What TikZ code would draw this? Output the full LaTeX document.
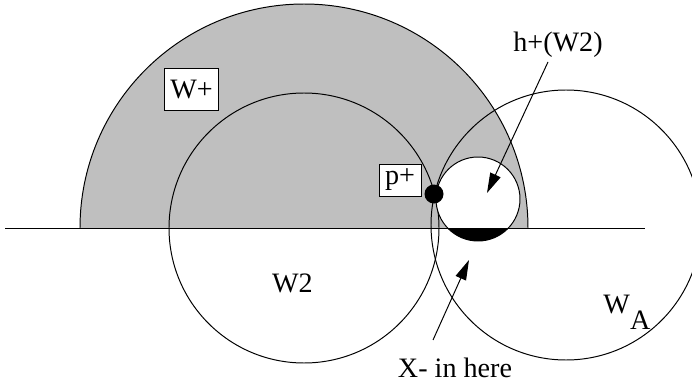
\documentclass[tikz,border=0pt]{standalone}
\usepackage{fontspec}
\setmainfont{Liberation Serif}
\usepackage{tikz}
\usetikzlibrary{arrows.meta}

\begin{document}
\begin{tikzpicture}[
    x=0.025cm, y=0.025cm, line width=0.7pt,
    font=\fontsize{20}{24}\selectfont,
    kotak/.style={draw, fill=white, inner sep=0pt, line width=0.6pt},
    panah/.style={-{Triangle[length=5mm, width=2.8mm]}}
  ]
    \path[use as bounding box, clip] (0,0) rectangle (692,383);

    % centres of the circles
    \coordinate (pusat) at (304,155);
    \coordinate (pusatA) at (566,158);
    \coordinate (pusatH) at (478,184);

    % shaded half disc W+
    \fill[gray!50] (80,155) arc[start angle=180, end angle=0, radius=224] -- cycle;
    \draw (80,155) arc[start angle=180, end angle=0, radius=224];

    \draw (pusat) circle[radius=135];
    \draw (pusatA) circle[radius=135];
    \filldraw[fill=white] (pusatH) circle[radius=42];
    \begin{scope}
      \clip (420,100) rectangle (540,155);
      \fill (pusatH) circle[radius=42];
    \end{scope}

    \draw (5,155) -- (645,155);
    \fill (434,189) circle[radius=9.5];

    \node[kotak, minimum width=1.33cm, minimum height=1.05cm] (wplus) at (191.5,293.5) {W+};
    \node[kotak, minimum width=1.05cm, minimum height=0.8cm] (pplus) at (400,203) {p+};
    \node[anchor=base] (w2) at (292.5,91) {W2};
    \node[anchor=base west, inner sep=0pt] (wa) at (603,70) {W\raisebox{-0.6em}{A}};
    \node[anchor=base] (hplus) at (558,331) {h+(W2)};
    \node[anchor=base] (xmin) at (455,6) {X- in here};

    \coordinate (hawal) at (548,321);
    \coordinate (hujung) at (487,190);
    \coordinate (xawal) at (433,43);
    \coordinate (xujung) at (469,123);
    \draw[panah] (hawal) -- (hujung);
    \draw[panah] (xawal) -- (xujung);
  \end{tikzpicture}
\end{document}
